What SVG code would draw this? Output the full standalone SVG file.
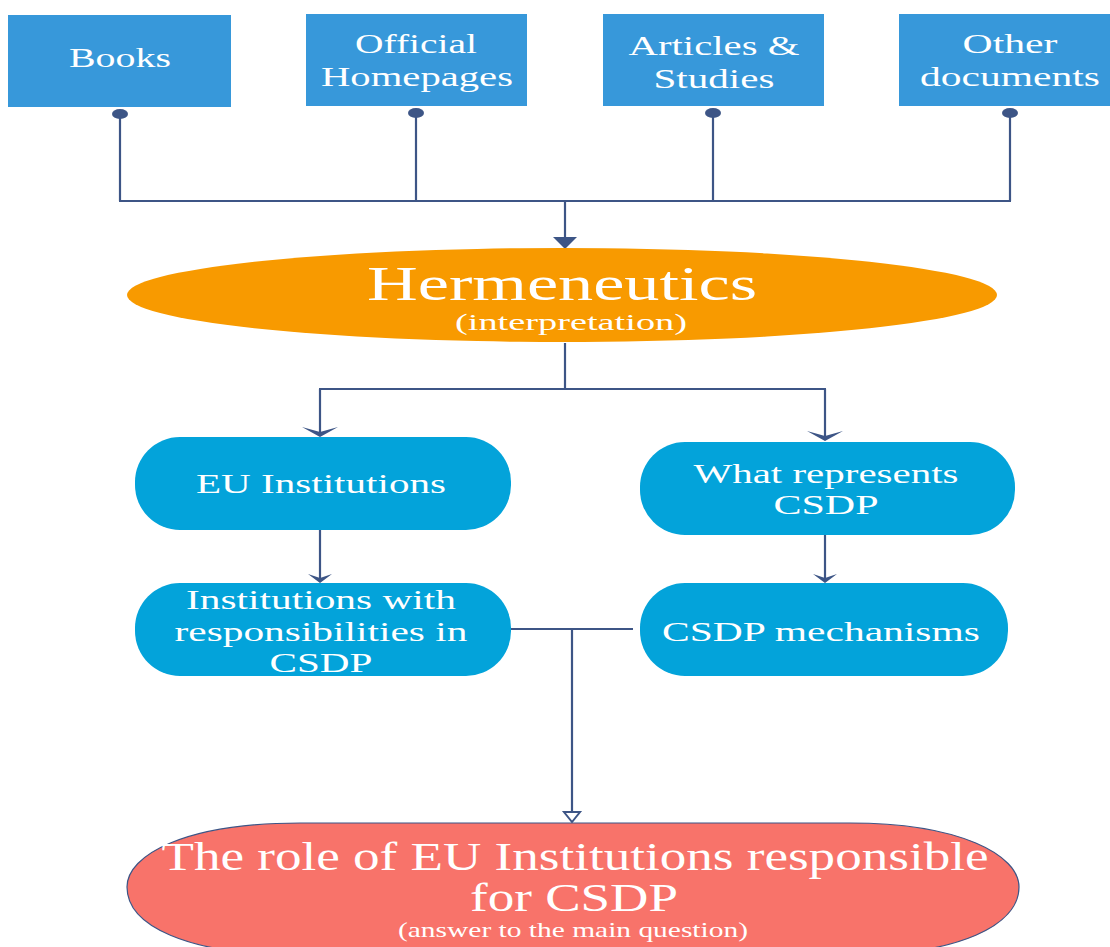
<svg xmlns="http://www.w3.org/2000/svg" width="1110" height="947" viewBox="0 0 1110 947">
<style>
.src{fill:#3798DA}
.rb{fill:#03A3DA}
.t{font-family:"Liberation Serif",serif;fill:#fff;text-anchor:middle}
.c{fill:none;stroke:#3D5586;stroke-width:2.2}
.h{fill:#3D5586}
</style>
<rect width="1110" height="947" fill="#fff"/>
<g id="connectors">
  <line class="c" x1="120" y1="114" x2="120" y2="201"/>
  <line class="c" x1="416" y1="113" x2="416" y2="201"/>
  <line class="c" x1="713" y1="113" x2="713" y2="201"/>
  <line class="c" x1="1010" y1="113" x2="1010" y2="201"/>
  <line class="c" x1="119" y1="201" x2="1011" y2="201"/>
  <line class="c" x1="565" y1="201" x2="565" y2="240"/>
  <polygon class="h" points="553,237 577,237 565,249"/>
  <ellipse class="h" cx="120" cy="114" rx="8" ry="5"/>
  <ellipse class="h" cx="416" cy="113" rx="8" ry="5"/>
  <ellipse class="h" cx="713" cy="113" rx="8" ry="5"/>
  <ellipse class="h" cx="1010" cy="113" rx="8" ry="5"/>
  <line class="c" x1="565" y1="343" x2="565" y2="389"/>
  <line class="c" x1="319" y1="389" x2="826" y2="389"/>
  <line class="c" x1="320" y1="389" x2="320" y2="434"/>
  <path class="h" d="M302,427 L320,437 L338,427 L320,432 Z"/>
  <line class="c" x1="825" y1="389" x2="825" y2="438"/>
  <path class="h" d="M807,431 L825,441 L843,431 L825,436 Z"/>
  <line class="c" x1="320" y1="530" x2="320" y2="580"/>
  <path class="h" d="M308,574 L320,583 L332,574 L320,578 Z"/>
  <line class="c" x1="825" y1="535" x2="825" y2="580"/>
  <path class="h" d="M813,574 L825,583 L837,574 L825,578 Z"/>
  <line class="c" x1="511" y1="629" x2="633" y2="629"/>
  <line class="c" x1="572" y1="629" x2="572" y2="812"/>
  <polygon points="564,812 580,812 572,822" fill="none" stroke="#3D5586" stroke-width="2"/>
</g>
<g id="books">
  <rect class="src" x="8" y="15" width="223" height="92"/>
  <text class="t" x="120" y="67" font-size="27" textLength="102" lengthAdjust="spacingAndGlyphs">Books</text>
</g>
<g id="official">
  <rect class="src" x="306" y="14" width="221" height="92"/>
  <text class="t" x="416" y="53" font-size="27" textLength="122" lengthAdjust="spacingAndGlyphs">Official</text>
  <text class="t" x="417" y="86" font-size="27" textLength="192" lengthAdjust="spacingAndGlyphs">Homepages</text>
</g>
<g id="articles">
  <rect class="src" x="603" y="14" width="221" height="92"/>
  <text class="t" x="714" y="55" font-size="27" textLength="171" lengthAdjust="spacingAndGlyphs">Articles &amp;</text>
  <text class="t" x="714" y="88" font-size="27" textLength="121" lengthAdjust="spacingAndGlyphs">Studies</text>
</g>
<g id="other">
  <rect class="src" x="899" y="14" width="211" height="92"/>
  <text class="t" x="1010" y="53" font-size="27" textLength="95" lengthAdjust="spacingAndGlyphs">Other</text>
  <text class="t" x="1010" y="86" font-size="27" textLength="180" lengthAdjust="spacingAndGlyphs">documents</text>
</g>
<g id="hermeneutics">
  <ellipse cx="562" cy="295" rx="435" ry="47" fill="#F89A00"/>
  <text class="t" x="562" y="300" font-size="49" textLength="390" lengthAdjust="spacingAndGlyphs">Hermeneutics</text>
  <text class="t" x="571" y="330" font-size="24" textLength="232" lengthAdjust="spacingAndGlyphs">(interpretation)</text>
</g>
<g id="eu-institutions">
  <rect class="rb" x="135" y="437" width="376" height="93" rx="45"/>
  <text class="t" x="321" y="493" font-size="27" textLength="250" lengthAdjust="spacingAndGlyphs">EU Institutions</text>
</g>
<g id="what-represents">
  <rect class="rb" x="640" y="442" width="375" height="93" rx="45"/>
  <text class="t" x="826" y="483" font-size="27" textLength="265" lengthAdjust="spacingAndGlyphs">What represents</text>
  <text class="t" x="826" y="514" font-size="27" textLength="105" lengthAdjust="spacingAndGlyphs">CSDP</text>
</g>
<g id="institutions-resp">
  <rect class="rb" x="135" y="583" width="376" height="93" rx="45"/>
  <text class="t" x="321" y="609" font-size="27" textLength="270" lengthAdjust="spacingAndGlyphs">Institutions with</text>
  <text class="t" x="321" y="641" font-size="27" textLength="293" lengthAdjust="spacingAndGlyphs">responsibilities in</text>
  <text class="t" x="321" y="672" font-size="27" textLength="103" lengthAdjust="spacingAndGlyphs">CSDP</text>
</g>
<g id="csdp-mechanisms">
  <rect class="rb" x="640" y="583" width="368" height="93" rx="45"/>
  <text class="t" x="821" y="641" font-size="27" textLength="318" lengthAdjust="spacingAndGlyphs">CSDP mechanisms</text>
</g>
<g id="role">
  <path d="M300,823 L850,823 C960,823 1019,855 1019,887 C1019,925 960,955 850,955 L300,955 C185,955 127,925 127,887 C127,855 185,823 300,823 Z" fill="#F8736A" stroke="#3D5586" stroke-width="1.2"/>
  <text class="t" x="575" y="870" font-size="40" textLength="827" lengthAdjust="spacingAndGlyphs">The role of EU Institutions responsible</text>
  <text class="t" x="574" y="911" font-size="40" textLength="208" lengthAdjust="spacingAndGlyphs">for CSDP</text>
  <text class="t" x="573" y="937" font-size="22" textLength="350" lengthAdjust="spacingAndGlyphs">(answer to the main question)</text>
</g>
</svg>
